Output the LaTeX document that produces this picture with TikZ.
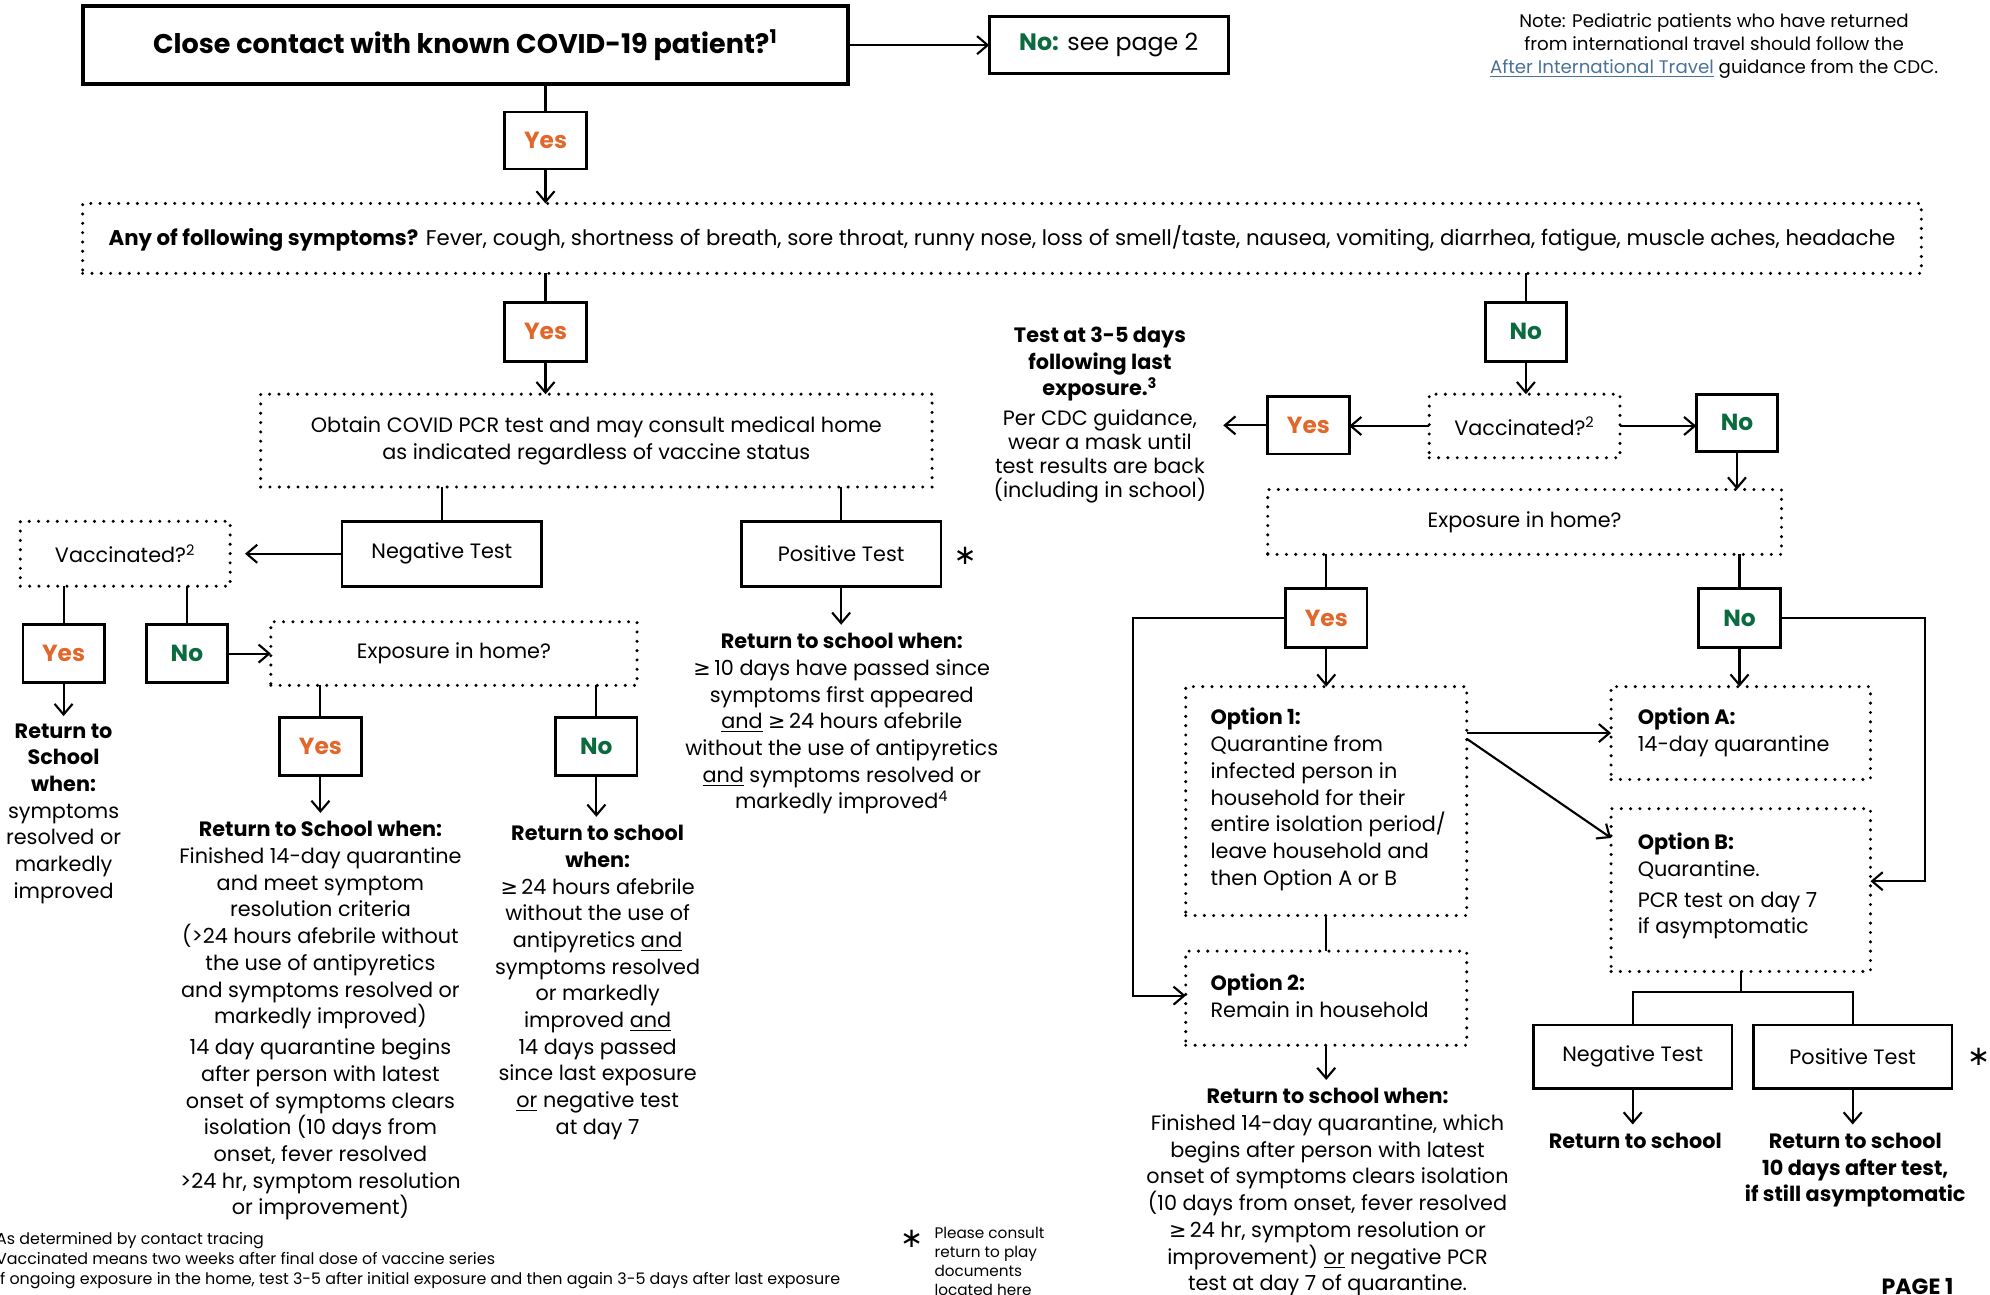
\documentclass[tikz,border=0pt]{standalone}
\usepackage{fontspec}
\setmainfont{Poppins}
\newfontfamily\dvf{DejaVu Sans}
\usetikzlibrary{arrows.meta,calc}
\definecolor{orgC}{HTML}{E2672A}
\definecolor{grnC}{HTML}{0B6B3E}
\definecolor{lnkC}{HTML}{4A7299}
\newcommand\gesym{{\dvf ≥}}
\newcommand\bodyf{\fontsize{9.8}{12.6}\selectfont}
\newcommand\sympf{\fontsize{10.05}{12.6}\selectfont}
\newcommand\titlef{\fontsize{12.75}{15}\selectfont\bfseries}
\newcommand\medf{\fontsize{11.2}{13}\selectfont}
\newcommand\ynf{\fontsize{11}{13}\selectfont\bfseries}
\newcommand\notef{\fontsize{8.6}{10.8}\selectfont}
\newcommand\fnf{\fontsize{7.5}{9.6}\selectfont}
\newcommand\plf{\fontsize{7.2}{9}\selectfont}
\newcommand\starf{\fontsize{13}{13}\selectfont\dvf}
\tikzset{
 sbox/.style={draw, line width=1.3pt, inner sep=0pt, outer sep=0pt, align=center},
 dbox/.style={draw, line width=1.6pt, line cap=round, dash pattern=on 0pt off 4.4pt, inner sep=0pt, outer sep=0pt, align=center},
 wh/.style 2 args={minimum width=#1*0.6pt, minimum height=#2*0.6pt},
 yesb/.style={sbox, wh={64}{46}, font=\ynf, text=orgC},
 nob/.style={sbox, wh={64}{46}, font=\ynf, text=grnC},
 ln/.style={line width=1.0pt},
 arr/.style={ln, -{Straight Barb[length=5pt,width=8.5pt]}},
 tx/.style={inner sep=0pt, outer sep=0pt, align=center, font=\bodyf, anchor=north},
 txl/.style={inner sep=0pt, outer sep=0pt, align=left, font=\bodyf, anchor=north west},
}
\begin{document}
\begin{tikzpicture}[x=0.6pt,y=-0.6pt]
\useasboundingbox (0,0) rectangle (1565,1018.4);
% ---------- top ----------
\node[sbox,line width=1.9pt,wh={602}{61},font=\titlef] (top) at (366,35.5) {Close contact with known COVID-19 patient?\textsuperscript{1}};
\node[sbox,wh={188}{45},font=\medf] (nop) at (872,35.5) {\textcolor{grnC}{\textbf{No:}} see page 2};
\node[tx,font=\notef] (note) at (1348,11) {Note: Pediatric patients who have returned\\from international travel should follow the\\\textcolor{lnkC}{\underline{After International Travel}} guidance from the CDC.};
\node[yesb,wh={64}{45}] (yes1) at (429,110.5) {Yes};
\node[dbox,wh={1446}{55},font=\sympf] (symp) at (788,187.5) {\textbf{Any of following symptoms?} Fever, cough, shortness of breath, sore throat, runny nose, loss of smell/taste, nausea, vomiting, diarrhea, fatigue, muscle aches, headache};
% ---------- left branch ----------
\node[yesb] (yes2) at (429,261) {Yes};
\node[dbox,wh={528}{73},font=\bodyf] (obtain) at (469,346.5) {Obtain COVID PCR test and may consult medical home\\as indicated regardless of vaccine status};
\node[sbox,wh={157}{51},font=\bodyf] (neg1) at (347.5,435.5) {Negative Test};
\node[sbox,wh={157}{51},font=\bodyf] (pos1) at (661.5,435.5) {Positive Test};
\node[font=\starf,inner sep=0pt] (st1) at (759,437) {∗};
\node[dbox,wh={165}{51},font=\bodyf] (vacc1) at (98.5,435.5) {Vaccinated?\textsuperscript{2}};
\node[yesb] (yes3) at (50,514) {Yes};
\node[nob] (no3) at (147,514) {No};
\node[dbox,wh={288}{50},font=\bodyf] (exp1) at (357,514) {Exposure in home?};
\node[yesb] (yes4) at (252,587) {Yes};
\node[nob] (no4) at (469,587) {No};
\node[tx] (ret1) at (50,569) {\textbf{Return to}\\\textbf{School}\\\textbf{when:}\\symptoms\\resolved or\\markedly\\improved};
\node[tx] (ret2) at (252,646) {\textbf{Return to School when:}\\Finished 14-day quarantine\\and meet symptom\\resolution criteria\\(>24 hours afebrile without\\the use of antipyretics\\and symptoms resolved or\\markedly improved)\\[2pt]14 day quarantine begins\\after person with latest\\onset of symptoms clears\\isolation (10 days from\\onset, fever resolved\\>24 hr, symptom resolution\\or improvement)};
\node[tx] (ret3) at (470,649) {\textbf{Return to school}\\\textbf{when:}\\\gesym\,24 hours afebrile\\without the use of\\antipyretics \underline{and}\\symptoms resolved\\or markedly\\improved \underline{and}\\14 days passed\\since last exposure\\\underline{or} negative test\\at day 7};
\node[tx] (ret4) at (662,498) {\textbf{Return to school when:}\\\gesym\,10 days have passed since\\symptoms first appeared\\\underline{and} \gesym\,24 hours afebrile\\without the use of antipyretics\\\underline{and} symptoms resolved or\\markedly improved\textsuperscript{4}};
% ---------- right branch ----------
\node[nob] (no2) at (1200,261) {No};
\node[dbox,wh={150}{50},font=\bodyf] (vacc2) at (1199,335) {Vaccinated?\textsuperscript{2}};
\node[yesb,wh={64}{45}] (yes5) at (1029,334.5) {Yes};
\node[nob,wh={64}{45}] (no5) at (1366,332.5) {No};
\node[tx] (testb) at (865,257) {\textbf{Test at 3-5 days}\\\textbf{following last}\\\textbf{exposure.\textsuperscript{3}}};
\node[tx,font=\fontsize{9.8}{11.4}\selectfont] (testn) at (865,322) {Per CDC guidance,\\wear a mask until\\test results are back\\(including in school)};
\coordinate (tt) at (962,334.5);
\node[dbox,wh={404}{51},font=\bodyf] (exp2) at (1199,410.5) {Exposure in home?};
\node[yesb] (yes6) at (1043,486) {Yes};
\node[nob] (no6) at (1368,486) {No};
\node[dbox,wh={221}{180}] (opt1) at (1043,630) {};
\node[txl] (opt1t) at (952,557) {\textbf{Option 1:}\\Quarantine from\\infected person in\\household for their\\entire isolation period/\\leave household and\\then Option A or B};
\node[dbox,wh={204}{73}] (optA) at (1369,576.5) {};
\node[txl] (optAt) at (1288,557) {\textbf{Option A:}\\14-day quarantine};
\node[dbox,wh={204}{128}] (optB) at (1369,700) {};
\node[txl] (optBt) at (1288,655) {\textbf{Option B:}\\Quarantine.\\[2pt]PCR test on day 7\\if asymptomatic};
\node[dbox,wh={221}{74}] (opt2) at (1043,785) {};
\node[txl] (opt2t) at (952,766) {\textbf{Option 2:}\\Remain in household};
\node[tx] (ret5) at (1044,856) {\textbf{Return to school when:}\\Finished 14-day quarantine, which\\begins after person with latest\\onset of symptoms clears isolation\\(10 days from onset, fever resolved\\\gesym\,24 hr, symptom resolution or\\improvement) \underline{or} negative PCR\\test at day 7 of quarantine.};
\node[sbox,wh={156}{50},font=\bodyf] (neg2) at (1284,831) {Negative Test};
\node[sbox,wh={156}{50},font=\bodyf] (pos2) at (1457,831) {Positive Test};
\node[font=\starf,inner sep=0pt] (st2) at (1556,831) {∗};
\node[tx] (ret6) at (1286,891) {\textbf{Return to school}};
\node[tx] (ret7) at (1459,891) {\textbf{Return to school}\\\textbf{10 days after test,}\\\textbf{if still asymptomatic}};
% ---------- footer ----------
\node[txl,font=\fnf] (fn) at (-3,969) {As determined by contact tracing\\Vaccinated means two weeks after final dose of vaccine series\\If ongoing exposure in the home, test 3-5 after initial exposure and then again 3-5 days after last exposure};
\node[font=\starf,inner sep=0pt] (st3) at (717,974) {∗};
\node[txl,font=\plf] (plc) at (735,965) {Please consult\\return to play\\documents\\located here};
\node[inner sep=0pt,font=\fontsize{10.4}{12}\selectfont\bfseries] (pg) at (1508,1012) {PAGE 1};
% ---------- connectors ----------
\draw[arr] (top.east) -- (nop.west);
\draw[ln] (yes1.north |- top.south) -- (yes1.north);
\draw[arr] (yes1.south) -- (yes1.south |- symp.north);
\draw[ln] (yes2.north |- symp.south) -- (yes2.north);
\draw[arr] (yes2.south) -- (yes2.south |- obtain.north);
\draw[ln] (neg1.north |- obtain.south) -- (neg1.north);
\draw[ln] (pos1.north |- obtain.south) -- (pos1.north);
\draw[arr,shorten >=4pt] (pos1.south) -- (pos1.south |- ret4.north);
\draw[arr,shorten >=7pt] (neg1.west) -- (vacc1.east);
\draw[ln] (yes3.north |- vacc1.south) -- (yes3.north);
\draw[ln] (no3.north |- vacc1.south) -- (no3.north);
\draw[arr,shorten >=3.5pt] (yes3.south) -- (yes3.south |- ret1.north);
\draw[arr] (no3.east) -- (exp1.west);
\draw[ln] (yes4.north |- exp1.south) -- (yes4.north);
\draw[ln] (no4.north |- exp1.south) -- (no4.north);
\draw[arr,shorten >=4pt] (yes4.south) -- (yes4.south |- ret2.north);
\draw[arr,shorten >=4pt] (no4.south) -- (no4.south |- ret3.north);
\draw[ln] (no2.north |- symp.south) -- (no2.north);
\draw[arr] (no2.south) -- (no2.south |- vacc2.north);
\draw[arr] (vacc2.west) -- (yes5.east |- vacc2.west);
\draw[arr] (yes5.west) -- (tt);
\draw[arr] (vacc2.east) -- (no5.west |- vacc2.east);
\draw[arr] (no5.south) -- (no5.south |- exp2.north);
\draw[ln] (yes6.north |- exp2.south) -- (yes6.north);
\draw[ln] (no6.north |- exp2.south) -- (no6.north);
\coordinate (ya) at (891,486);
\coordinate (yb) at (891,783);
\draw[arr] (yes6.west) -- (ya) -- (yb) -- (opt2.west |- yb);
\draw[arr] (yes6.south) -- (opt1.north);
\draw[arr] (opt1.east |- optA.west) -- (optA.west);
\draw[arr] (opt1.east |- 0,581) -- (optB.west |- 0,659);
\coordinate (na) at (1514,486);
\coordinate (nb) at (1514,693);
\draw[arr] (no6.east) -- (na) -- (nb) -- (optB.east |- nb);
\draw[arr] (no6.south) -- (no6.south |- optA.north);
\draw[ln] (opt1.south) -- (opt2.north);
\draw[arr,shorten >=4pt] (opt2.south) -- (opt2.south |- ret5.north);
\coordinate (jn) at (1369,780);
\draw[ln] (optB.south) -- (optB.south |- jn);
\draw[ln] (neg2.north) |- (jn) -| (pos2.north);
\draw[arr,shorten >=4pt] (neg2.south) -- (neg2.south |- ret6.north);
\draw[arr,shorten >=4pt] (pos2.south) -- (pos2.south |- ret7.north);
\end{tikzpicture}
\end{document}
